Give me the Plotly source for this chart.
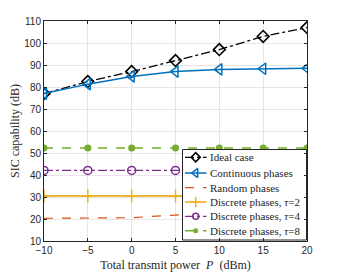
import plotly.graph_objects as go

power = [-10, -5, 0, 5, 10, 15, 20]
ideal = [77, 82.5, 87, 92, 97, 103, 107]
continuous = [77, 81.3, 84.8, 87, 88, 88.3, 88.5]
random_ph = [20.3, 20.3, 20.6, 21.8, 22.8, 23.5, 24.0]
disc2 = [30.5, 30.5, 30.5, 30.5, 30.5, 30.5, 30.5]
disc4 = [42.1, 42.1, 42.1, 42.1, 42.1, 42.1, 42.1]
disc8 = [52.3, 52.3, 52.3, 52.3, 52.3, 52.3, 52.3]

names = ["Ideal case", "Continuous phases", "Random phases",
         "Discrete phases, <i>τ</i>=2", "Discrete phases, <i>τ</i>=4", "Discrete phases, <i>τ</i>=8"]
series = [ideal, continuous, random_ph, disc2, disc4, disc8]

x_ticks = [-10, -5, 0, 5, 10, 15, 20]
y_ticks = [10, 20, 30, 40, 50, 60, 70, 80, 90, 100, 110]
X_RANGE = [-10, 20]
Y_RANGE = [10, 110]

SERIF = "Liberation Serif"
INK = "#262626"

styles = [
    dict(line=dict(color="black", width=1.3, dash="dashdot"),
         marker=dict(symbol="diamond-open", size=9, color="black", line=dict(width=1.6))),
    dict(line=dict(color="#0072BD", width=1.5, dash="solid"),
         marker=dict(symbol="triangle-left-open", size=10, color="#0072BD", line=dict(width=1.5))),
    dict(line=dict(color="#D95319", width=1.2, dash="dash"), marker=None),
    dict(line=dict(color="#EDB120", width=1.6, dash="solid"),
         marker=dict(symbol="cross-thin-open", size=9, color="#EDB120", line=dict(width=1.5, color="#EDB120"))),
    dict(line=dict(color="#7E2F8E", width=1.3, dash="dashdot"),
         marker=dict(symbol="circle-open", size=8, color="#7E2F8E", line=dict(width=1.5))),
    dict(line=dict(color="#77AC30", width=1.5, dash="dash"),
         marker=dict(symbol="circle", size=7, color="#77AC30")),
]

fig = go.Figure()
for name, ys, st in zip(names, series, styles):
    kw = dict(x=power, y=ys, name=name, showlegend=False, line=st["line"])
    if st["marker"] is not None:
        kw.update(mode="lines+markers", marker=st["marker"])
    else:
        kw.update(mode="lines")
    fig.add_trace(go.Scatter(**kw))

# ---- legend box (MATLAB style), placed via plot-pixel offsets ----
PW, PH = 263, 220  # plot area size in px


def lx(px):
    return X_RANGE[0] + px * (X_RANGE[1] - X_RANGE[0]) / PW


def ly(py):
    return Y_RANGE[0] + py * (Y_RANGE[1] - Y_RANGE[0]) / PH


box = (138.5, 262.5, 1.0, 91.5)
rows = [83.7, 68.0, 53.3, 39.0, 24.7, 10.3]
samp = (141, 162.5)
mark_px = 151.7
text_px = 164

fig.add_trace(go.Scatter(x=[lx(box[0]), lx(box[1]), lx(box[1]), lx(box[0]), lx(box[0])],
                         y=[ly(box[2]), ly(box[2]), ly(box[3]), ly(box[3]), ly(box[2])],
                         mode="lines", fill="toself", fillcolor="white",
                         line=dict(color=INK, width=1), showlegend=False, hoverinfo="skip"))
for name, r, st in zip(names, rows, styles):
    fig.add_trace(go.Scatter(x=[lx(samp[0]), lx(samp[1])], y=[ly(r), ly(r)], mode="lines",
                             line=st["line"], showlegend=False, hoverinfo="skip"))
    if st["marker"] is not None:
        m = dict(st["marker"])
        m["size"] = m["size"] - 2
        fig.add_trace(go.Scatter(x=[lx(mark_px)], y=[ly(r)], mode="markers", marker=m,
                                 showlegend=False, hoverinfo="skip"))
    fig.add_annotation(x=lx(text_px), y=ly(r), xref="x", yref="y", text=name, showarrow=False,
                       xanchor="left", yanchor="middle",
                       font=dict(family=SERIF, size=11, color=INK))

axis_common = dict(showline=True, linecolor=INK, linewidth=1, mirror="ticks",
                   ticks="inside", ticklen=3, tickcolor=INK, automargin=False,
                   showgrid=True, gridcolor="#E6E6E6", gridwidth=1, zeroline=False,
                   tickfont=dict(family="Liberation Sans", size=10, color=INK))

fig.update_layout(
    width=332, height=264,
    margin=dict(l=36, r=33, t=13, b=31),
    paper_bgcolor="white", plot_bgcolor="white",
    showlegend=False,
    xaxis=dict(range=X_RANGE, tickvals=x_ticks, **axis_common,
               title=dict(text="Total transmit power  <i>P</i>  (dBm)",
                          font=dict(family=SERIF, size=12, color=INK))),
    yaxis=dict(range=Y_RANGE, tickvals=y_ticks, **axis_common,
               title=dict(text="SIC capability (dB)",
                          font=dict(family=SERIF, size=12, color=INK))),
)

fig.write_html("out.html")
